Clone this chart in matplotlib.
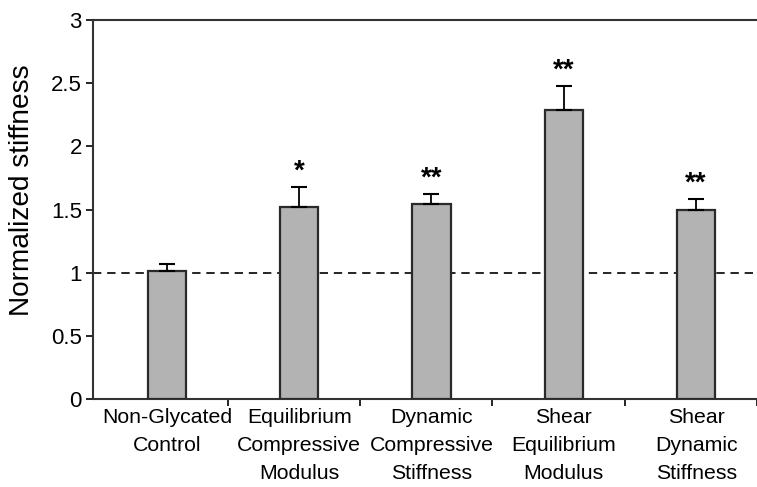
import numpy as np
import matplotlib.pyplot as plt

plt.rcParams['font.family'] = ['Liberation Sans', 'DejaVu Sans']

labels = ["Non-Glycated\nControl", "Equilibrium\nCompressive\nModulus",
          "Dynamic\nCompressive\nStiffness", "Shear\nEquilibrium\nModulus",
          "Shear\nDynamic\nStiffness"]
values = [1.01, 1.52, 1.54, 2.29, 1.50]
errors = [0.06, 0.16, 0.085, 0.185, 0.08]
stars = ["", "*", "**", "**", "**"]

fig = plt.figure(figsize=(7.57, 4.87), dpi=100)
ax = fig.add_axes([93 / 757, 88 / 487, 664 / 757, 379 / 487])

x = np.arange(len(values))
ax.bar(x, values, width=0.29, color='#b3b3b3', edgecolor='#2a2a2a', linewidth=1.6, zorder=3)
ax.errorbar(x, values, yerr=[np.zeros(len(errors)), errors], fmt='none',
            ecolor='black', elinewidth=1.3, capsize=5.5, capthick=1.5, zorder=4)
ax.axhline(1, color='black', linestyle=(0, (5, 3.5)), linewidth=1.2, zorder=2)

for xi, v, e, s in zip(x, values, errors, stars):
    if s:
        ax.text(xi, v + e + 0.02, s, ha='center', va='bottom', fontsize=20, fontweight='bold')

ax.set_xlim(-0.558, 4.41)
ax.set_ylim(0, 3)
ax.set_yticks(np.arange(0, 3.01, 0.5))
ax.set_yticklabels(['0', '0.5', '1', '1.5', '2', '2.5', '3'])
ax.tick_params(axis='y', labelsize=16, length=5, width=1.2, pad=3)

ax.set_xticks(x + 0.46)
ax.set_xticklabels([])
ax.tick_params(axis='x', length=5, width=1.2)
for xi, lab in zip(x, labels):
    ax.text(xi, -0.075, lab, ha='center', va='top', fontsize=15.3, linespacing=1.58,
            transform=ax.transData, clip_on=False)

ax.set_ylabel("Normalized stiffness", fontsize=20.2)
ax.yaxis.set_label_coords(-0.087, 0.55)
ax.spines['right'].set_visible(False)
for sp in ['left', 'bottom', 'top']:
    ax.spines[sp].set_linewidth(1.5)
    ax.spines[sp].set_color('#333333')

fig.savefig("out.png", dpi=100)
